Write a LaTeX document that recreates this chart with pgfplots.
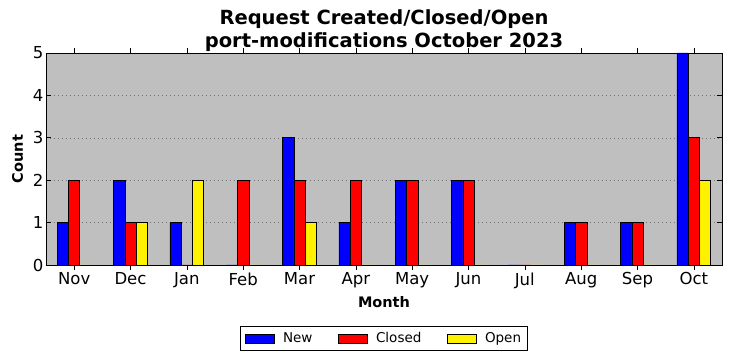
\documentclass[border=0pt]{standalone}
\usepackage{fontspec}
\setmainfont{DejaVu Sans}
\usepackage{pgfplots}
\pgfplotsset{compat=1.18}
\definecolor{bgc}{RGB}{191,191,191}
\begin{document}
\begin{tikzpicture}
\useasboundingbox (-46pt,-96pt) rectangle (686pt,265pt);
\begin{axis}[
  at={(0,0)}, anchor=south west,
  scale only axis, width=676pt, height=212pt,
  xmin=-0.5, xmax=11.5, ymin=0, ymax=5,
  axis background/.style={fill=bgc},
  axis line style={black, line width=0.9pt},
  xtick={0,...,11},
  xticklabels={Nov,Dec,Jan,Feb,Mar,Apr,May,Jun,Jul,Aug,Sep,Oct},
  ytick={0,1,2,3,4,5},
  tick align=inside,
  tick style={black, line width=0.6pt, major tick length=5pt},
  /pgf/number format/assume math mode=true,
  xticklabel style={font=\fontsize{16.5}{19}\selectfont, yshift=1pt},
  yticklabel style={font=\fontsize{16.5}{19}\selectfont, xshift=1pt},
  ymajorgrids, grid style={dash pattern=on 1pt off 3pt, gray!90!black, line width=0.5pt},
  xlabel={Month}, ylabel={Count},
  xlabel style={font=\bfseries\fontsize{14.5}{17}\selectfont, yshift=-1.5pt},
  ylabel style={font=\bfseries\fontsize{14.5}{17}\selectfont, yshift=3pt},
  title={Request Created/Closed/Open\\port-modifications October 2023},
  title style={font=\bfseries\fontsize{19.5}{23}\selectfont, align=center, yshift=-8.5pt},
  ybar, bar width=0.2,
  legend style={at={(0.5,-0.288)}, anchor=north, legend columns=3, draw=black, line width=0.9pt,
    font=\fontsize{13.5}{15}\selectfont,
    /tikz/every odd column/.append style={column sep=6.5pt},
    /tikz/every even column/.append style={column sep=23.5pt},
    inner xsep=4.5pt, inner ysep=4pt},
  legend image code/.code={\draw[#1, line width=0.6pt] (0pt,-4.5pt) rectangle (29pt,4.5pt);},
]
\addplot[fill=blue, draw=black, line width=0.6pt, bar shift=-0.2] coordinates {
(0,1) (1,2) (2,1) (3,0) (4,3) (5,1) (6,2) (7,2) (8,0) (9,1) (10,1) (11,5)};
\addplot[fill=red, draw=black, line width=0.6pt, bar shift=0] coordinates {
(0,2) (1,1) (2,0) (3,2) (4,2) (5,2) (6,2) (7,2) (8,0) (9,1) (10,1) (11,3)};
\addplot[fill=yellow, draw=black, line width=0.6pt, bar shift=0.2] coordinates {
(0,0) (1,1) (2,2) (3,0) (4,1) (5,0) (6,0) (7,0) (8,0) (9,0) (10,0) (11,2)};
\legend{New,Closed,Open}
\end{axis}
\end{tikzpicture}
\end{document}
